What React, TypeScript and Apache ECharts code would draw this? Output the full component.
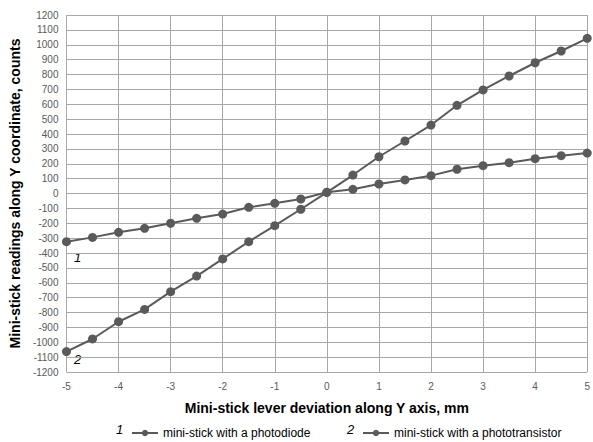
import React, { useEffect, useRef } from "react";
import * as echarts from "echarts";

const xValues = [-5, -4.5, -4, -3.5, -3, -2.5, -2, -1.5, -1, -0.5, 0, 0.5, 1, 1.5, 2, 2.5, 3, 3.5, 4, 4.5, 5];
const photodiode = [-324, -295, -261, -234, -200, -167, -138, -93, -66, -37, 8, 28, 64, 91, 120, 163, 187, 207, 234, 254, 272];
const phototransistor = [-1063, -978, -862, -779, -660, -555, -440, -324, -216, -106, 8, 124, 247, 353, 460, 593, 696, 790, 879, 958, 1043];
const seriesNames = ["mini-stick with a photodiode", "mini-stick with a phototransistor"];
const xTitle = "Mini-stick lever deviation along Y axis, mm";
const yTitle = "Mini-stick readings along Y coordinate, counts";

const FONT = "'Liberation Sans Narrow', 'Arial Narrow', 'Liberation Sans', Arial, sans-serif";

export default function App() {
  const ref = useRef<HTMLDivElement>(null);
  useEffect(() => {
    if (!ref.current) return;
    const chart = echarts.init(ref.current, null, { renderer: "svg" });
    const mk = (vals: number[]) => xValues.map((x, i) => [x, vals[i]]);
    const lineColor = "#5a5a5a";
    const legendBase = {
      top: 422,
      itemWidth: 26,
      itemHeight: 8,
      itemGap: 4,
      textStyle: { fontFamily: FONT, fontSize: 12, color: "#000" },
    };
    chart.setOption({
      animation: false,
      grid: { left: 62, right: 3, top: 15, bottom: 70, containLabel: false },
      xAxis: {
        type: "value",
        min: -5,
        max: 5,
        interval: 1,
        name: xTitle,
        nameLocation: "middle",
        nameGap: 29,
        nameTextStyle: { fontFamily: FONT, fontSize: 14, fontWeight: "bold", color: "#000" },
        axisLine: { show: false },
        axisTick: { show: false },
        axisLabel: { color: "#595959", fontSize: 10, fontFamily: FONT, margin: 9, formatter: (v: number) => String(v) },
        splitLine: { show: true, lineStyle: { color: "#a8a8a8", width: 1 } },
      },
      yAxis: {
        type: "value",
        min: -1200,
        max: 1200,
        interval: 100,
        name: yTitle,
        nameLocation: "middle",
        nameGap: 42,
        nameTextStyle: { fontFamily: FONT, fontSize: 14, fontWeight: "bold", color: "#000" },
        axisLine: { show: false },
        axisTick: { show: false },
        axisLabel: { color: "#595959", fontSize: 10, fontFamily: FONT, margin: 8, formatter: (v: number) => String(v) },
        splitLine: { show: true, lineStyle: { color: "#a8a8a8", width: 1 } },
      },
      legend: [
        { ...legendBase, left: 126, data: [seriesNames[0]] },
        { ...legendBase, left: 357, data: [seriesNames[1]] },
      ],
      graphic: [
        { type: "text", left: 116, top: 423, style: { text: "1", font: `italic 13px ${FONT}`, fill: "#000" } },
        { type: "text", left: 347, top: 423, style: { text: "2", font: `italic 13px ${FONT}`, fill: "#000" } },
        { type: "text", left: 74, top: 251, style: { text: "1", font: `italic 13px ${FONT}`, fill: "#000" } },
        { type: "text", left: 74, top: 353, style: { text: "2", font: `italic 13px ${FONT}`, fill: "#000" } },
      ],
      series: [
        {
          name: seriesNames[0],
          type: "line",
          data: mk(photodiode),
          symbol: "circle",
          symbolSize: 9,
          itemStyle: { color: lineColor },
          lineStyle: { color: lineColor, width: 2 },
        },
        {
          name: seriesNames[1],
          type: "line",
          data: mk(phototransistor),
          symbol: "circle",
          symbolSize: 9,
          itemStyle: { color: lineColor },
          lineStyle: { color: lineColor, width: 2 },
        },
      ],
    });
    return () => chart.dispose();
  }, []);
  return <div ref={ref} style={{ width: 593, height: 442, position: "absolute", left: 0, top: 0, background: "#fff" }} />;
}
